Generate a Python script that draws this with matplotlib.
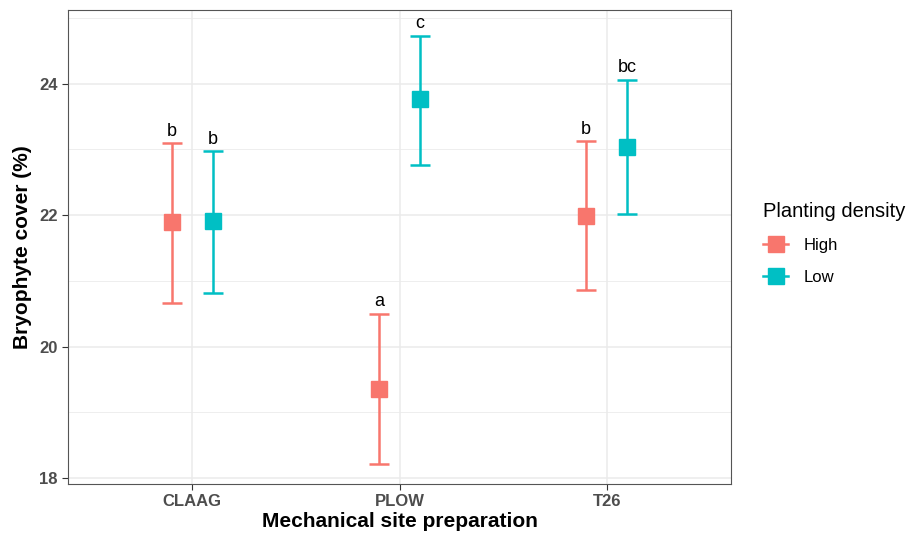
#! /usr/bin/env python3

import numpy as np
from matplotlib import pyplot as plt
from matplotlib.lines import Line2D

plt.rcParams["font.family"] = ["Liberation Sans", "DejaVu Sans"]

sites = ["CLAAG", "PLOW", "T26"]
densities = ["High", "Low"]
colors = {"High": "#F8766D", "Low": "#00BFC4"}

mean_high = [21.89, 19.36, 21.98]
upper_high = [23.10, 20.50, 23.12]
lower_high = [20.67, 18.22, 20.86]
letters_high = ["b", "a", "b"]

mean_low = [21.91, 23.77, 23.03]
upper_low = [22.97, 24.73, 24.06]
lower_low = [20.82, 22.76, 22.02]
letters_low = ["b", "c", "bc"]

def main():

    fig = plt.figure(figsize = (9.13, 5.35), dpi = 100)
    ax = fig.add_axes([0.0745, 0.0953, 0.7262, 0.886])

    x = np.arange(1, len(sites) + 1)
    series = {
        "High": (mean_high, upper_high, lower_high, letters_high, -0.1),
        "Low":  (mean_low, upper_low, lower_low, letters_low, 0.1),
    }

    for name in densities:
        m, up, lo, lab, off = series[name]
        m = np.array(m)
        up = np.array(up)
        lo = np.array(lo)
        xs = x + off
        ax.errorbar(xs, m, yerr = [m - lo, up - m], fmt = "none",
                    ecolor = colors[name], elinewidth = 1.8,
                    capsize = 7.5, capthick = 1.8, zorder = 3)
        ax.plot(xs, m, "s", color = colors[name], markersize = 12, zorder = 4)
        for xi, yi, t in zip(xs, up, lab):
            ax.text(xi, yi + 0.05, t, ha = "center", va = "bottom",
                    fontsize = 13, color = "black")

    ax.set_xlim(0.4, 3.6)
    ax.set_ylim(17.91, 25.12)
    ax.set_xticks(x)
    ax.set_xticklabels(sites)
    ax.set_yticks([18, 20, 22, 24])
    ax.set_yticks([19, 21, 23, 25], minor = True)

    ax.grid(True, which = "major", color = "#EBEBEB", linewidth = 1.1, zorder = 0)
    ax.grid(True, which = "minor", axis = "y", color = "#EBEBEB", linewidth = 0.6, zorder = 0)
    ax.set_axisbelow(True)
    ax.tick_params(axis = "both", which = "major", length = 4, color = "#333333",
                   labelsize = 12, labelcolor = "#4D4D4D", width = 0.8)
    ax.tick_params(axis = "y", which = "minor", length = 0)
    for lbl in ax.get_xticklabels() + ax.get_yticklabels():
        lbl.set_fontweight("bold")
    for sp in ax.spines.values():
        sp.set_color("#555555")
        sp.set_linewidth(0.8)

    ax.set_xlabel("Mechanical site preparation", fontsize = 15, fontweight = "bold", labelpad = 2)
    ax.set_ylabel("Bryophyte cover (%)", fontsize = 15, fontweight = "bold", labelpad = 5)

    handles = [Line2D([0], [0], color = colors[n], marker = "s", markersize = 12,
                      linewidth = 1.8) for n in densities]
    leg = fig.legend(handles, densities, title = "Planting density",
                     loc = "upper left", bbox_to_anchor = (0.836, 0.622),
                     borderaxespad = 0, borderpad = 0,
                     frameon = False, fontsize = 12, title_fontsize = 14.5,
                     handlelength = 1.5, handletextpad = 0.9, labelspacing = 1.0)
    leg._legend_box.align = "left"

    fig.savefig("out.png", dpi = 100)

if __name__ == "__main__":
    main()
